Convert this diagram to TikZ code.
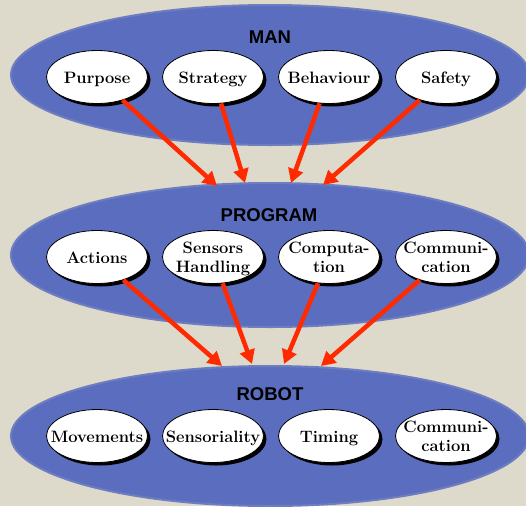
\documentclass[tikz,border=0pt]{standalone}
\usepackage{fontspec}
\newfontfamily\headfont{Liberation Sans}
\usetikzlibrary{arrows.meta,shadows,shapes.geometric}
\definecolor{bgtone}{RGB}{221,218,204}
\definecolor{layerblue}{RGB}{91,109,190}
\definecolor{flowred}{RGB}{255,42,0}
% centred label that does not widen its ellipse
\newcommand\itemlabel[1]{\raisebox{-0.42em}{\makebox[0pt]{\begin{tabular}{@{}c@{}}#1\end{tabular}}}}
\begin{document}
\begin{tikzpicture}[x=1pt,y=-1pt,
  layerbox/.style={ellipse, fill=layerblue, draw=layerblue!85!bgtone, line width=2pt,
    inner sep=0pt, minimum width=518pt},
  layertitle/.style={font=\headfont\bfseries\fontsize{18.5}{20}\selectfont, text=black},
  item/.style={ellipse, draw=black, line width=0.8pt, fill=white, inner sep=0pt,
    minimum width=101pt, minimum height=53pt, text height=0pt, text depth=0pt,
    font=\bfseries\fontsize{16.5}{19}\selectfont,
    drop shadow={shadow xshift=3pt, shadow yshift=-3pt, fill=black, opacity=1}},
  flow/.style={draw=flowred, line width=4.5pt,
    -{Triangle[length=14pt,width=15pt]}}]

% canvas
\fill[bgtone] (0,0) rectangle (526,506);
\clip (0,0) rectangle (526,506);

% three layers
\node[layerbox, minimum height=140pt] (man) at (270,75) {};
\node[layerbox, minimum height=144pt] (program) at (270,255) {};
\node[layerbox, minimum height=140pt] (robot) at (270,436) {};

\node[layertitle] (mantitle) at (270,37) {MAN};
\node[layertitle] (programtitle) at (269,215) {PROGRAM};
\node[layertitle] (robottitle) at (270,394) {ROBOT};

% MAN items
\node[item] (purpose)   at (97,77)  {\itemlabel{Purpose}};
\node[item] (strategy)  at (213,77) {\itemlabel{Strategy}};
\node[item] (behaviour) at (329,77) {\itemlabel{Behaviour}};
\node[item] (safety)    at (446,77) {\itemlabel{Safety}};

% PROGRAM items
\node[item] (actions)   at (97,257)  {\itemlabel{Actions}};
\node[item] (sensors)   at (213,257) {\itemlabel{Sensors\\Handling}};
\node[item] (computation) at (329,257) {\itemlabel{Computa-\\tion}};
\node[item] (pcomm)     at (446,257) {\itemlabel{Communi-\\cation}};

% ROBOT items
\node[item] (movements) at (97,436)  {\itemlabel{Movements}};
\node[item] (sensoriality) at (213,436) {\itemlabel{Sensoriality}};
\node[item] (timing)    at (329,436) {\itemlabel{Timing}};
\node[item] (rcomm)     at (446,436) {\itemlabel{Communi-\\cation}};

% arrow tips on the layer rims
\coordinate (p1) at (217,186);
\coordinate (p2) at (245,183);
\coordinate (p3) at (291,183);
\coordinate (p4) at (323,185);
\coordinate (r1) at (222,366);
\coordinate (r2) at (252,364);
\coordinate (r3) at (284,364);
\coordinate (r4) at (321,366);

\draw[flow] (purpose) -- (p1);
\draw[flow] (strategy) -- (p2);
\draw[flow] (behaviour) -- (p3);
\draw[flow] (safety) -- (p4);

\draw[flow] (actions) -- (r1);
\draw[flow] (sensors) -- (r2);
\draw[flow] (computation) -- (r3);
\draw[flow] (pcomm) -- (r4);
\end{tikzpicture}
\end{document}
